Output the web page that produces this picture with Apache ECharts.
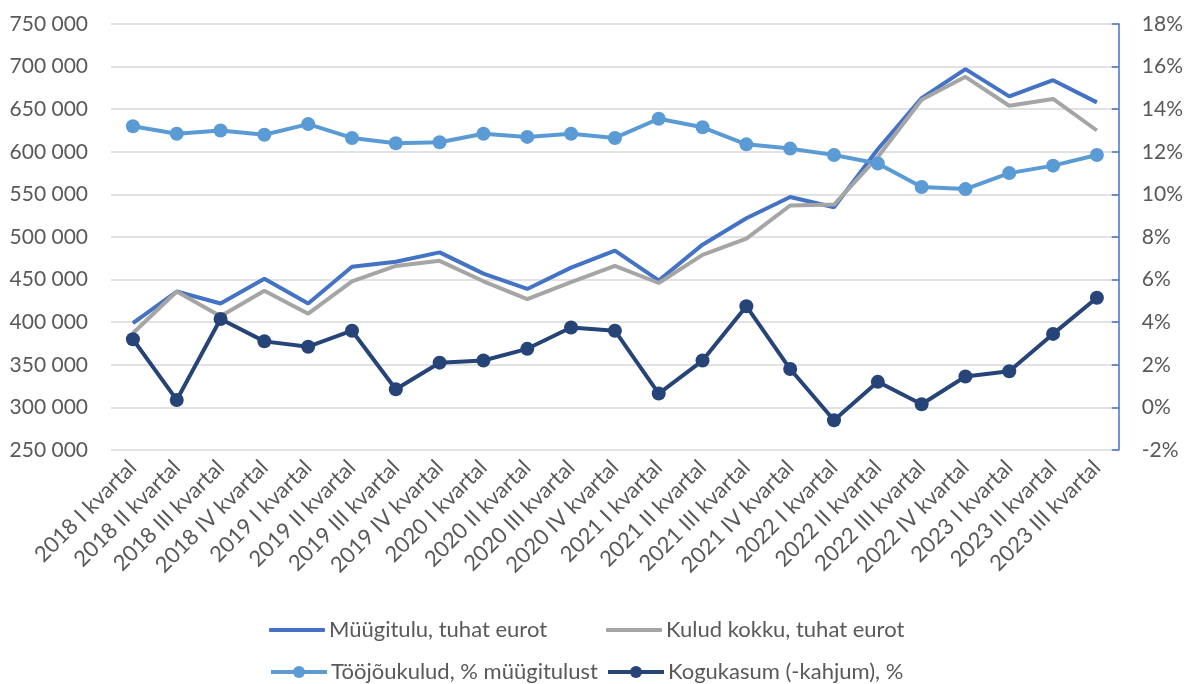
<!DOCTYPE html>
<html>
<head>
<meta charset="utf-8">
<script src="https://cdn.jsdelivr.net/npm/echarts@6/dist/echarts.min.js"></script>
<style>
    html, body {margin: 0; padding: 0; background: #fff;}
    #main {width: 1186px; height: 684px;}
</style>
</head>
<body>
<div id="main"></div>
<script>
var categories = ['2018 I kvartal', '2018 II kvartal', '2018 III kvartal', '2018 IV kvartal',
    '2019 I kvartal', '2019 II kvartal', '2019 III kvartal', '2019 IV kvartal',
    '2020 I kvartal', '2020 II kvartal', '2020 III kvartal', '2020 IV kvartal',
    '2021 I kvartal', '2021 II kvartal', '2021 III kvartal', '2021 IV kvartal',
    '2022 I kvartal', '2022 II kvartal', '2022 III kvartal', '2022 IV kvartal',
    '2023 I kvartal', '2023 II kvartal', '2023 III kvartal'];

// tuhat eurot
var myygitulu = [399000, 436000, 422000, 451000, 422000, 465000, 471000, 482000,
    457000, 439000, 464000, 484000, 449000, 491000, 522000, 547000,
    535000, 603000, 663000, 697000, 665000, 684000, 658000];
var kulud = [387000, 436000, 407000, 437000, 410000, 448000, 466000, 472000,
    448000, 427000, 447000, 466000, 446000, 479000, 498000, 537000,
    538000, 594000, 661000, 688000, 654000, 662000, 625000];

// %
var toojoukulud = [13.2, 12.85, 13.0, 12.8, 13.3, 12.65, 12.4, 12.45,
    12.85, 12.7, 12.85, 12.65, 13.55, 13.15, 12.35, 12.15,
    11.85, 11.45, 10.35, 10.25, 11.0, 11.35, 11.85];
var kogukasum = [3.2, 0.35, 4.15, 3.1, 2.85, 3.6, 0.85, 2.1,
    2.2, 2.75, 3.75, 3.6, 0.65, 2.2, 4.75, 1.8,
    -0.6, 1.2, 0.15, 1.45, 1.7, 3.45, 5.15];

var textColor = '#595959';
var fontName = 'Lato';

// one legend per item, so the 2x2 layout lines up like the original
function legendItem(name, left, top, plain) {
    return {
        left: left,
        top: top,
        itemWidth: 56,
        itemHeight: plain ? 4 : 15,
        itemGap: 4,
        icon: plain ? 'roundRect' : undefined,
        lineStyle: {width: 4},
        textStyle: {color: textColor, fontSize: 22, fontFamily: fontName, padding: [0, 0, 0, -1]},
        data: [name]
    };
}

function chart() {
    var dom = document.getElementById("main");
    var myChart = echarts.init(dom);
    var option = {
        animation: false,
        textStyle: {fontFamily: fontName},
        grid: {left: 111, right: 64, top: 24, bottom: 234},
        legend: [
            legendItem('Müügitulu, tuhat eurot', 264, 614, true),
            legendItem('Kulud kokku, tuhat eurot', 601, 614, true),
            legendItem('Tööjõukulud, % müügitulust', 264, 656, false),
            legendItem('Kogukasum (-kahjum), %', 601, 656, false)
        ],
        xAxis: {
            type: 'category',
            data: categories,
            boundaryGap: true,
            axisLine: {show: false},
            axisTick: {show: false},
            axisLabel: {
                interval: 0,
                rotate: 45,
                margin: 14,
                color: textColor,
                fontSize: 22,
                fontFamily: fontName
            }
        },
        yAxis: [{
            type: 'value',
            min: 250000,
            max: 750000,
            interval: 50000,
            axisLine: {show: false},
            axisTick: {show: false},
            splitLine: {lineStyle: {color: '#d9d9d9', width: 1.5}},
            axisLabel: {
                margin: 23,
                color: textColor,
                fontSize: 21,
                fontFamily: fontName,
                formatter: function (v) {
                    return String(v).replace(/\B(?=(\d{3})+(?!\d))/g, ' ');
                }
            }
        }, {
            type: 'value',
            position: 'right',
            min: -2,
            max: 18,
            interval: 2,
            axisLine: {show: true, lineStyle: {color: '#4472c4', width: 1.5}},
            axisTick: {show: true, inside: true, length: 7, lineStyle: {color: '#4472c4', width: 1.5}},
            splitLine: {show: false},
            axisLabel: {
                margin: 23,
                color: textColor,
                fontSize: 21,
                fontFamily: fontName,
                formatter: '{value}%'
            }
        }],
        series: [{
            name: 'Müügitulu, tuhat eurot',
            type: 'line',
            yAxisIndex: 0,
            symbol: 'none',
            lineStyle: {color: '#4472c4', width: 4},
            itemStyle: {color: '#4472c4'},
            data: myygitulu
        }, {
            name: 'Kulud kokku, tuhat eurot',
            type: 'line',
            yAxisIndex: 0,
            symbol: 'none',
            lineStyle: {color: '#a5a5a5', width: 4},
            itemStyle: {color: '#a5a5a5'},
            data: kulud
        }, {
            name: 'Tööjõukulud, % müügitulust',
            type: 'line',
            yAxisIndex: 1,
            symbol: 'circle',
            symbolSize: 14,
            lineStyle: {color: '#5b9bd5', width: 4},
            itemStyle: {color: '#5b9bd5'},
            data: toojoukulud
        }, {
            name: 'Kogukasum (-kahjum), %',
            type: 'line',
            yAxisIndex: 1,
            symbol: 'circle',
            symbolSize: 14,
            lineStyle: {color: '#264478', width: 4},
            itemStyle: {color: '#264478'},
            data: kogukasum
        }]
    };
    myChart.setOption(option, true);
    window.onresize = myChart.resize;
}

chart();
</script>
</body>
</html>
